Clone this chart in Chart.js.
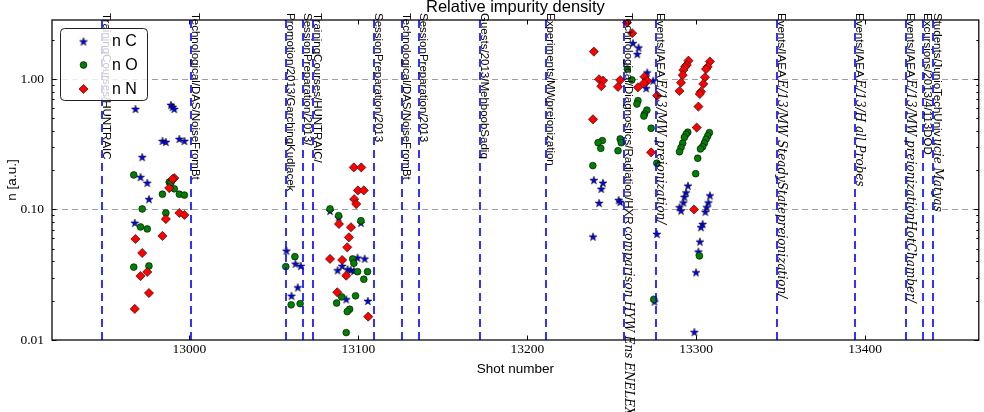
<!DOCTYPE html>
<html>
<head>
<meta charset="utf-8">
<title>Relative impurity density</title>
<script src="https://cdn.jsdelivr.net/npm/chart.js@4.4.1/dist/chart.umd.min.js"></script>
<style>
html,body{margin:0;padding:0;background:#fff;}
canvas{display:block;}
</style>
</head>
<body>
<canvas id="chart" width="984" height="412"></canvas>
<script>
// ── Data ──
const shotsC=[12968,12989,12990,12991,12984,12986,12994,12997,12972,12971,12975,12976,12967.6,
  13057.4,13062.7,13065.9,13064.1,13060.4,13083.2,13088.3,13101.5,13087.7,13090.4,13093.6,13095.4,13097.3,13099.5,13103.7,13092.8,13105.6,
  13262.5,13265.9,13265.1,13271.0,13270.4,13274.5,13239.4,13244.8,13243.8,13242.5,13238.9,13254.1,13255.0,13276.7,13275.3,
  13295.1,13294.0,13293.0,13292.4,13290.1,13291.0,13308.1,13307.2,13306.2,13305.4,13303.8,13302.8,13302.2,13301.3,13299.9,13298.9];
const densC=[0.589,0.633,0.61,0.589,0.335,0.329,0.347,0.335,0.252,0.177,0.16,0.12,0.079,
  0.0483,0.0384,0.0369,0.0253,0.0218,0.0975,0.087,0.079,0.0342,0.0369,0.0348,0.0344,0.0338,0.0427,0.042,0.0205,0.0199,
  1.88,1.74,1.55,1.12,0.849,0.97,0.168,0.160,0.144,0.112,0.0619,0.118,0.114,0.0649,0.0197,
  0.152,0.135,0.125,0.113,0.104,0.098,0.128,0.113,0.104,0.096,0.0774,0.0731,0.0567,0.0475,0.033,0.0115];

const shotsO=[12967,12972,12984,12988,12989,12991,12994,12997,12986,12971,12975,12967,12976,
  13083.2,13088.3,13101.5,13096.6,13097.3,13099.5,13105.4,13103.2,13098.3,13087.1,13090.1,13094.8,13093.4,13092.8,13062.4,13057.0,13060.2,13065.5,
  13259.2,13261.9,13265.5,13264.9,13270.8,13269.4,13269.0,13273.3,13244.4,13241.9,13243.5,13255.0,13255.6,13253.7,13238.8,13276.7,13274.9,
  13295.0,13294.0,13293.0,13292.0,13291.0,13290.1,13307.8,13306.8,13305.8,13304.8,13303.8,13302.5,13300.9,13299.7,13301.9];
const densO=[0.184,0.101,0.131,0.162,0.16,0.144,0.131,0.129,0.094,0.0735,0.071,0.0362,0.0369,
  0.101,0.0896,0.082,0.0418,0.0387,0.0334,0.0334,0.0292,0.0218,0.0192,0.0214,0.0172,0.0165,0.0114,0.0435,0.0365,0.0186,0.019,
  1.19,0.982,0.682,0.643,0.578,0.54,0.52,0.419,0.337,0.325,0.294,0.347,0.325,0.282,0.217,0.226,0.0205,
  0.391,0.377,0.357,0.322,0.298,0.277,0.388,0.366,0.345,0.322,0.303,0.291,0.247,0.188,0.0441];

const shotsN=[12991,12990,12988,12994,12997,12986,12968,12984,12972,12971,12975,12976,12967.6,
  13097.3,13101.7,13099.7,13103.2,13097.5,13098.7,13088.5,13095.6,13094.4,13093.4,13083.2,13090.4,13092.8,13087.5,13105.8,
  13259.0,13262.1,13239.4,13242.5,13244.8,13243.8,13255.0,13253.7,13265.5,13269.4,13271.0,13269.0,13276.9,13273.3,13238.9,
  13295.4,13294.4,13293.4,13292.4,13292.0,13291.0,13290.1,13308.1,13306.8,13305.8,13305.2,13304.2,13302.8,13302.1,13301.3,13300.3,13298.7];
const densN=[0.174,0.171,0.146,0.094,0.0908,0.0845,0.0594,0.0627,0.0464,0.0309,0.0332,0.0229,0.0173,
  0.21,0.21,0.14,0.14,0.12,0.11,0.0774,0.0731,0.0612,0.0513,0.0418,0.041,0.0311,0.0232,0.0151,
  2.70,2.24,1.62,0.995,0.97,0.88,0.98,0.87,0.863,1.04,0.966,0.927,0.745,0.274,0.491,
  1.38,1.28,1.24,1.17,1.07,0.937,0.809,1.36,1.24,1.19,1.03,0.916,0.799,0.767,0.614,0.424,0.100];

const seriesNames=['n C','n O','n N'];

// logbook events (vertical dashed lines)
const eventShots=[12948,13001,13057,13067,13073,13109,13126,13136,13172,13211,13257,13276,13348,13394,13424,13434,13440];
const eventText=['TrainingCourses/HUNTRAIC','Technological/DAS/NoiseFromBt','Promotion/2013/GarchingKudlacek',
  'SessionPreparation/2013/','TrainingCourses/HUNTRAIC/','SessionPreparation/2013','Technological/DAS/NoiseFromBt',
  'SessionPreparation/2013','Guests/2013/MehboobSadiq','Experiments/MWpreionization',
  'Technological/Diagnostics/Radiation/HXR','Events/IAEA','Events/IAEA','Events/IAEA','Events/IAEA',
  'Excursions/2013/4/113DOD','Students/JunioTechUniv'];
const eventMath=['','','','','','','','','','',
  'comparison HYW Ens ENELEX','E/13/MW preionization/','E/13/MW SteadyStatepreionization/','E/13/H all Probes',
  'E/13/MW preionizationHotChamber/','','ucie Matyas'];

const xTicks=[13000,13100,13200,13300,13400];
const yMajor=[0.01,0.1,1];
const yMajorLabels=['0.01','0.10','1.00'];
const xMin=12918.6, xMax=13467.3, yMin=0.01, yMax=2.83;

// ── Markers ──
function makeStar(r,fill){
  const c=document.createElement('canvas');
  const s=Math.ceil(r*2+3); c.width=s; c.height=s;
  const g=c.getContext('2d');
  g.translate(s/2,s/2+0.4);
  g.beginPath();
  for(let i=0;i<10;i++){
    const rr=i%2?r*0.382:r, a=-Math.PI/2+i*Math.PI/5;
    g.lineTo(rr*Math.cos(a),rr*Math.sin(a));
  }
  g.closePath();
  g.fillStyle=fill; g.fill();
  g.lineWidth=0.6; g.strokeStyle='#000'; g.stroke();
  return c;
}
const starImg=makeStar(4.2,'#0000ff');

const pts=(xs,ys)=>xs.map((x,i)=>({x:x,y:ys[i]}));
const markerOpts=[
  {pointStyle:starImg,pointRadius:4,backgroundColor:'#0000ff',borderColor:'#000',borderWidth:0.6},
  {pointStyle:'circle',pointRadius:3.4,backgroundColor:'#008000',borderColor:'#000',borderWidth:0.6},
  {pointStyle:'rectRot',pointRadius:4.6,backgroundColor:'#ff0000',borderColor:'#000',borderWidth:0.6}
];

// ── Decorations: grid, events, frame, legend, titles ──
const decor={
  id:'decor',
  beforeDatasetsDraw(c){
    const {ctx,chartArea:a,scales:{y}}=c;
    ctx.save();
    ctx.strokeStyle='#a0a0a0'; ctx.lineWidth=1; ctx.setLineDash([6,4]);
    yMajor.forEach(v=>{
      const py=Math.round(y.getPixelForValue(v))+0.5;
      if(py>a.top+2&&py<a.bottom-2){ctx.beginPath();ctx.moveTo(a.left,py);ctx.lineTo(a.right,py);ctx.stroke();}
    });
    ctx.restore();
  },
  afterDatasetsDraw(c){
    const {ctx,chartArea:a,scales:{x,y}}=c;
    ctx.save();
    // event lines
    ctx.strokeStyle='#0000ff'; ctx.lineWidth=1.6; ctx.setLineDash([8,5]);
    eventShots.forEach(s=>{
      const px=Math.round(x.getPixelForValue(s));
      ctx.beginPath(); ctx.moveTo(px,a.top); ctx.lineTo(px,a.bottom); ctx.stroke();
    });
    ctx.setLineDash([]);
    // event labels, rotated, reading top to bottom
    ctx.fillStyle='#000'; ctx.textAlign='left'; ctx.textBaseline='alphabetic';
    eventShots.forEach((s,i)=>{
      const px=x.getPixelForValue(s);
      ctx.save();
      ctx.translate(px+1,13);
      ctx.rotate(Math.PI/2);
      ctx.font='11.5px "Liberation Sans", Arial, sans-serif';
      ctx.fillText(eventText[i],0,0);
      if(eventMath[i]){
        const w=ctx.measureText(eventText[i]).width;
        ctx.font='italic 12px "DejaVu Serif", serif';
        ctx.fillText(eventMath[i],w+2,0);
      }
      ctx.restore();
    });
    // frame
    ctx.strokeStyle='#000'; ctx.lineWidth=1.25;
    ctx.strokeRect(a.left,a.top,a.right-a.left,a.bottom-a.top);
    // tick marks (inside)
    ctx.lineWidth=1;
    xTicks.forEach(v=>{
      const px=Math.round(x.getPixelForValue(v))+0.5;
      ctx.beginPath();
      ctx.moveTo(px,a.bottom); ctx.lineTo(px,a.bottom-4.5);
      ctx.moveTo(px,a.top); ctx.lineTo(px,a.top+4.5);
      ctx.stroke();
    });
    for(let d=0.01;d<3;d*=10){
      for(let k=1;k<10;k++){
        const v=d*k; if(v>yMax) break;
        const py=Math.round(y.getPixelForValue(v))+0.5, len=k===1?4.5:2.5;
        ctx.beginPath();
        ctx.moveTo(a.left,py); ctx.lineTo(a.left+len,py);
        ctx.moveTo(a.right,py); ctx.lineTo(a.right-len,py);
        ctx.stroke();
      }
    }
    // legend
    const lx=60.5, ly=28.5, lw=87, lh=72;
    ctx.beginPath(); ctx.roundRect(lx,ly,lw,lh,4);
    ctx.fillStyle='rgba(255,255,255,0.78)'; ctx.fill();
    ctx.strokeStyle='#222'; ctx.lineWidth=1; ctx.stroke();
    const rowY=[41.5,65,89];
    ctx.font='16px "Liberation Sans", Arial, sans-serif'; ctx.textBaseline='middle';
    seriesNames.forEach((n,i)=>{
      const m=markerOpts[i];
      if(i===0){ctx.drawImage(starImg,83.5-starImg.width/2,rowY[i]-starImg.height/2);}
      else{
        ctx.fillStyle=m.backgroundColor; ctx.strokeStyle='#000'; ctx.lineWidth=m.borderWidth;
        Chart.helpers.drawPoint(ctx,{pointStyle:m.pointStyle,radius:m.pointRadius,borderWidth:m.borderWidth},83.5,rowY[i]);
      }
      ctx.fillStyle='#000';
      ctx.fillText(n,112,rowY[i]+0.5);
    });
    // titles
    ctx.textAlign='center'; ctx.textBaseline='alphabetic';
    ctx.font='16.5px "Liberation Sans", Arial, sans-serif';
    ctx.fillText('Relative impurity density',(a.left+a.right)/2,12);
    ctx.font='13.5px "Liberation Sans", Arial, sans-serif'; ctx.textBaseline='middle';
    ctx.fillText('Shot number',(a.left+a.right)/2,369);
    ctx.save();
    ctx.translate(12,(a.top+a.bottom)/2); ctx.rotate(-Math.PI/2);
    ctx.fillText('n [a.u.]',0,0);
    ctx.restore();
    ctx.restore();
  }
};

new Chart(document.getElementById('chart'),{
  type:'scatter',
  data:{datasets:[
    Object.assign({label:seriesNames[0],data:pts(shotsC,densC),order:3},markerOpts[0]),
    Object.assign({label:seriesNames[1],data:pts(shotsO,densO),order:2},markerOpts[1]),
    Object.assign({label:seriesNames[2],data:pts(shotsN,densN),order:1},markerOpts[2])
  ]},
  options:{
    responsive:false,animation:false,devicePixelRatio:1,
    layout:{padding:{top:20,right:2,left:0,bottom:0}},
    plugins:{legend:{display:false},tooltip:{enabled:false},title:{display:false}},
    scales:{
      x:{type:'linear',min:xMin,max:xMax,
        afterBuildTicks:s=>{s.ticks=xTicks.map(v=>({value:v}));},
        ticks:{color:'#000',font:{family:'"Liberation Serif", serif',size:13.5},padding:1,maxRotation:0,autoSkip:false,callback:v=>String(v)},
        grid:{display:false,drawTicks:false},border:{display:false},
        afterFit:s=>{s.height=72;}},
      y:{type:'logarithmic',min:yMin,max:yMax,
        afterBuildTicks:s=>{s.ticks=yMajor.map(v=>({value:v}));},
        ticks:{color:'#000',font:{family:'"Liberation Serif", serif',size:13.5},padding:8,autoSkip:false,callback:(v,i)=>yMajorLabels[i]},
        grid:{display:false,drawTicks:false},border:{display:false},
        afterFit:s=>{s.width=52;}}
    }
  },
  plugins:[decor]
});
</script>
</body>
</html>
